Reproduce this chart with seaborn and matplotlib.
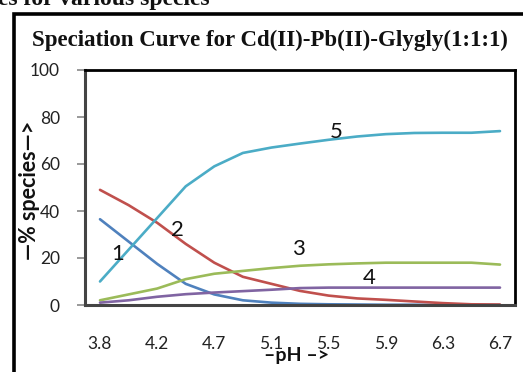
import numpy as np
import pandas as pd
import matplotlib
matplotlib.use("Agg")
import matplotlib.pyplot as plt
from matplotlib.patches import Rectangle
import seaborn as sns

# pH categories (every second one is labelled on the axis)
ph = ["3.8", "4.0", "4.2", "4.5", "4.7", "4.9", "5.1", "5.3",
      "5.5", "5.7", "5.9", "6.1", "6.3", "6.5", "6.7"]

# % of each species at every pH
species_1 = [36.5, 27.0, 17.5, 9.0, 4.5, 2.0, 1.0, 0.5, 0.3, 0.2, 0.1, 0.1, 0.0, 0.0, 0.0]
species_2 = [49.0, 42.5, 35.0, 26.0, 18.0, 12.0, 9.0, 6.0, 4.0, 2.8, 2.2, 1.5, 0.8, 0.3, 0.2]
species_3 = [2.0, 4.5, 7.0, 11.0, 13.3, 14.5, 15.7, 16.7, 17.3, 17.7, 18.0, 18.0, 18.0, 18.0, 17.2]
species_4 = [1.0, 2.0, 3.5, 4.6, 5.3, 5.9, 6.5, 7.2, 7.4, 7.4, 7.4, 7.4, 7.4, 7.4, 7.4]
species_5 = [10.0, 23.5, 37.0, 50.5, 59.0, 64.7, 67.0, 68.7, 70.3, 71.7, 72.7, 73.2, 73.3, 73.3, 74.0]

series_names = ["1", "2", "3", "4", "5"]
series_values = [species_1, species_2, species_3, species_4, species_5]
colors = ["#4F81BD", "#C0504D", "#9BBB59", "#8064A2", "#4BACC6"]

# Curve labels: (name, category position, % value)
curve_labels = [("1", 0.6, 21.7), ("2", 2.7, 31.9), ("3", 6.94, 23.7),
                ("4", 9.43, 11.4), ("5", 8.26, 73.7)]

rows = []
for name, vals in zip(series_names, series_values):
    for i, v in enumerate(vals):
        rows.append({"idx": i, "pct": v, "species": name})
df = pd.DataFrame(rows)

sns.set_theme(style="white")
plt.rcParams["font.family"] = ["Lato", "DejaVu Sans"]

fig = plt.figure(figsize=(5.23, 3.72), dpi=100)
ax = fig.add_axes([85 / 523, 1 - 305 / 372, 430 / 523, 235 / 372])

sns.lineplot(data=df, x="idx", y="pct", hue="species", palette=colors,
             linewidth=1.9, legend=False, ax=ax, sort=False)

ax.set_xlim(-0.525, 14.525)
ax.set_ylim(0, 100)
ax.set_yticks(np.arange(0, 101, 20))
ax.set_yticklabels([str(v) for v in range(0, 101, 20)], fontsize=12.5, color="#222222")
ax.set_xticks(range(0, len(ph), 2))
ax.set_xticklabels(ph[::2], fontsize=12.5, color="#222222")
ax.tick_params(axis="x", length=0, pad=22)
ax.tick_params(axis="y", length=6, width=1.2, color="#888888", pad=12, left=True)

for side in ["top", "right"]:
    ax.spines[side].set_color("black")
    ax.spines[side].set_linewidth(2)
for side in ["left", "bottom"]:
    ax.spines[side].set_color("#444444")
    ax.spines[side].set_linewidth(2.2)

for name, xi, yv in curve_labels:
    ax.text(xi, yv, name, fontsize=16, ha="center", va="center", color="#111111")

ax.set_xlabel("")
ax.set_ylabel("")

# Axis captions
fig.text(297 / 523, 1 - 356 / 372, "\u2013pH \u2013>", fontsize=14, fontweight="bold",
         ha="center", va="center", color="#111111")
fig.text(30 / 523, 1 - 190 / 372, "\u2014% species\u2014>", fontsize=15.5, fontweight="bold",
         rotation=90, ha="center", va="center", color="#111111")

# Chart title
fig.text(270 / 523, 1 - 40 / 372, "Speciation Curve for Cd(II)-Pb(II)-Glygly(1:1:1)",
         fontsize=16.5, fontweight="bold", family="Liberation Serif",
         ha="center", va="center", color="#111111")

# Caption text running above the chart frame
fig.text(-0.004, 1 - 5 / 372, "es for various species", fontsize=17, fontweight="bold",
         family="Liberation Serif", ha="left", va="baseline", color="#111111")

# Chart frame
fig.add_artist(Rectangle((14 / 523, -0.1), 1.2, (1 - 14 / 372) + 0.1,
                         transform=fig.transFigure, fill=False,
                         edgecolor="black", linewidth=2.6))

fig.savefig("out.png", dpi=100)
